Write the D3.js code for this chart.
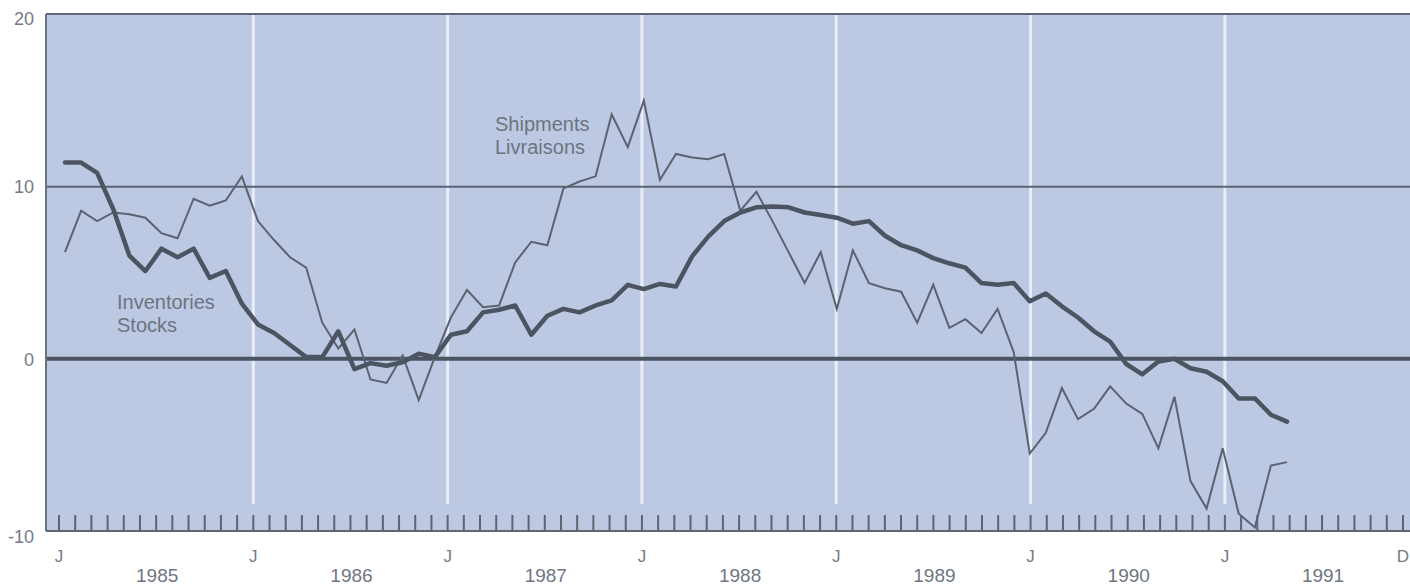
<!DOCTYPE html>
<html>
<head>
<meta charset="utf-8">
<script src="https://cdn.jsdelivr.net/npm/d3@7/dist/d3.min.js"></script>
<style>
  html, body { margin: 0; padding: 0; background: #ffffff; }
  svg { display: block; }
  text { font-family: "Liberation Sans", Arial, sans-serif; }
</style>
</head>
<body>
<svg id="chart" width="1410" height="587"></svg>
<script>
// ---- Data (monthly, Jan 1985 .. May 1991), percent change ----
const inventories = [
  11.4, 11.4, 10.8, 8.7, 6.0, 5.1, 6.4, 5.9, 6.4, 4.7, 5.1, 3.2,
  2.0, 1.5, 0.8, 0.1, 0.1, 1.6, -0.6, -0.25, -0.4, -0.2, 0.3, 0.1,
  1.4, 1.6, 2.7, 2.85, 3.1, 1.4, 2.5, 2.9, 2.7, 3.1, 3.4, 4.3,
  4.05, 4.35, 4.2, 5.95, 7.1, 8.0, 8.5, 8.8, 8.85, 8.8, 8.5, 8.35,
  8.2, 7.85, 8.0, 7.15, 6.6, 6.3, 5.85, 5.55, 5.3, 4.4, 4.3, 4.4,
  3.35, 3.8, 3.05, 2.4, 1.6, 1.0, -0.3, -0.9, -0.15, 0.0, -0.55, -0.75,
  -1.3, -2.3, -2.3, -3.25, -3.65
];
const shipments = [
  6.2, 8.6, 8.0, 8.5, 8.4, 8.2, 7.3, 7.0, 9.3, 8.9, 9.2, 10.6,
  8.0, 6.9, 5.9, 5.3, 2.1, 0.6, 1.7, -1.2, -1.4, 0.2, -2.4, 0.1,
  2.4, 4.0, 3.0, 3.1, 5.6, 6.8, 6.6, 9.9, 10.3, 10.6, 14.2, 12.3,
  15.0, 10.4, 11.9, 11.7, 11.6, 11.9, 8.6, 9.7, 8.0, 6.2, 4.4, 6.2,
  2.9, 6.3, 4.4, 4.1, 3.9, 2.1, 4.3, 1.8, 2.3, 1.5, 2.9, 0.4,
  -5.5, -4.3, -1.7, -3.5, -2.9, -1.6, -2.6, -3.2, -5.2, -2.2, -7.1, -8.7,
  -5.2, -9.0, -9.8, -6.2, -6.0
];
const yTicks = [20, 10, 0, -10];
const years = ["1985", "1986", "1987", "1988", "1989", "1990", "1991"];
const monthMarks = [{m: 0, t: "J"}, {m: 12, t: "J"}, {m: 24, t: "J"}, {m: 36, t: "J"},
                    {m: 48, t: "J"}, {m: 60, t: "J"}, {m: 72, t: "J"}, {m: 83, t: "D"}];
const gridMonths = [12, 24, 36, 48, 60, 72];

// ---- Layout ----
const plotLeft = 46, plotRight = 1412, plotTop = 14, plotBottom = 531;
const svg = d3.select("#chart");

const y = d3.scaleLinear().domain([-10, 20]).range([plotBottom, plotTop + 0.5]);
const xTick = d3.scaleLinear().domain([0, 83]).range([59, 1403]);
const xData = d3.scaleLinear().domain([0, inventories.length - 1]).range([65, 1287]);

// background
svg.append("rect")
  .attr("x", plotLeft).attr("y", plotTop)
  .attr("width", plotRight - plotLeft).attr("height", plotBottom - plotTop)
  .attr("fill", "#bdc8e3");

// white vertical gridlines at January
svg.selectAll("line.vgrid").data(gridMonths).enter().append("line")
  .attr("class", "vgrid")
  .attr("x1", d => xTick(d)).attr("x2", d => xTick(d))
  .attr("y1", plotTop + 1).attr("y2", 504)
  .attr("stroke", "#eef2fb").attr("stroke-width", 3).attr("opacity", 0.9);

// horizontal reference lines
svg.append("line")
  .attr("x1", plotLeft).attr("x2", plotRight)
  .attr("y1", y(10)).attr("y2", y(10))
  .attr("stroke", "#5a6371").attr("stroke-width", 2);
svg.append("line")
  .attr("x1", plotLeft).attr("x2", plotRight)
  .attr("y1", y(0)).attr("y2", y(0))
  .attr("stroke", "#4c5461").attr("stroke-width", 4);

// frame: top, left, bottom
svg.append("line").attr("x1", plotLeft).attr("x2", plotRight)
  .attr("y1", plotTop).attr("y2", plotTop)
  .attr("stroke", "#5f6775").attr("stroke-width", 2);
svg.append("line").attr("x1", plotLeft).attr("x2", plotLeft)
  .attr("y1", plotTop).attr("y2", plotBottom)
  .attr("stroke", "#6a7280").attr("stroke-width", 2);
svg.append("line").attr("x1", plotLeft).attr("x2", plotRight)
  .attr("y1", plotBottom).attr("y2", plotBottom)
  .attr("stroke", "#5f6775").attr("stroke-width", 2);

// monthly tick marks
svg.selectAll("line.mtick").data(d3.range(0, 84)).enter().append("line")
  .attr("class", "mtick")
  .attr("x1", d => xTick(d)).attr("x2", d => xTick(d))
  .attr("y1", plotBottom - 16).attr("y2", plotBottom)
  .attr("stroke", "#5d6573").attr("stroke-width", 2);

// y labels
const yOff = {"20": 10, "10": 6.5, "0": 7, "-10": 12};
svg.selectAll("text.ylab").data(yTicks).enter().append("text")
  .attr("class", "ylab")
  .attr("x", 34).attr("y", d => y(d) + yOff[String(d)])
  .attr("text-anchor", "end")
  .attr("font-size", 18).attr("fill", "#737a86")
  .text(d => d);

// month letters
svg.selectAll("text.mlab").data(monthMarks).enter().append("text")
  .attr("class", "mlab")
  .attr("x", d => xTick(d.m)).attr("y", 562)
  .attr("text-anchor", "middle")
  .attr("font-size", 17).attr("fill", "#737a86")
  .text(d => d.t);

// years
svg.selectAll("text.yr").data(years).enter().append("text")
  .attr("class", "yr")
  .attr("x", (d, i) => xTick(12 * i + 6) + 1).attr("y", 582)
  .attr("text-anchor", "middle")
  .attr("font-size", 19).attr("fill", "#6f7682")
  .text(d => d);

// series lines
const lineGen = d3.line().x((d, i) => xData(i)).y(d => y(d));
svg.append("path").datum(shipments)
  .attr("d", lineGen).attr("fill", "none")
  .attr("stroke", "#5b6370").attr("stroke-width", 2)
  .attr("stroke-linejoin", "miter");
svg.append("path").datum(inventories)
  .attr("d", lineGen).attr("fill", "none")
  .attr("stroke", "#4d5461").attr("stroke-width", 4.5)
  .attr("stroke-linejoin", "round").attr("stroke-linecap", "round");

// series labels
const lab1 = svg.append("text").attr("font-size", 20).attr("fill", "#6c7480");
lab1.append("tspan").attr("x", 117).attr("y", 309).text("Inventories");
lab1.append("tspan").attr("x", 117).attr("y", 332).text("Stocks");
const lab2 = svg.append("text").attr("font-size", 20).attr("fill", "#6c7480");
lab2.append("tspan").attr("x", 495).attr("y", 131).text("Shipments");
lab2.append("tspan").attr("x", 495).attr("y", 154).text("Livraisons");
</script>
</body>
</html>
